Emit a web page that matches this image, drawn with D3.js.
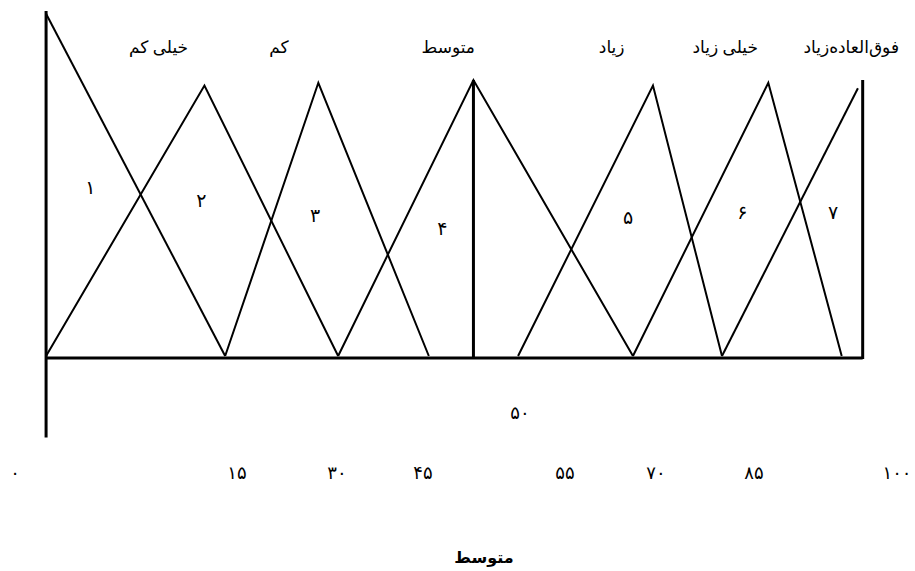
<!DOCTYPE html>
<html>
<head>
<meta charset="utf-8">
<script src="https://cdn.jsdelivr.net/npm/d3@7"></script>
<style>
  body { margin: 0; background: #fff; }
  text { font-family: "Times New Roman", "DejaVu Sans", serif; fill: #000; }
</style>
</head>
<body>
<script>
// axis values as printed under the chart
const xTicks = [0, 15, 30, 45, 50, 55, 70, 85, 100];

// fuzzy set names along the top
const categories = ["خیلی کم", "کم", "متوسط", "زیاد", "خیلی زیاد", "فوق‌العاده‌زیاد"];
const categoryAt = [9.7, 21.3, 46.3, 62.7, 80.6, 95.2];

// membership lines, [x, membership]
const sets = [
  [[2.1, 1.24], [14.2, 0]],
  [[2.1, 0], [12.8, 0.98], [30.2, 0]],
  [[14.2, 0], [27.2, 0.99], [45.3, 0]],
  [[30.2, 0], [47.6, 1.0], [66.2, 0]],
  [[49.9, 0], [69.5, 0.98], [80.1, 0]],
  [[66.2, 0], [86.5, 0.99], [94.2, 0]],
  [[80.1, 0], [95.9, 0.97]]
];

// region numbers inside the triangles
const regionNums = [1, 2, 3, 4, 5, 6, 7];
const regionX = [5.1, 12.6, 26.7, 46.0, 65.4, 83.2, 93.3];
const regionY = [0.61, 0.565, 0.51, 0.464, 0.504, 0.52, 0.52];

const frame = { left: 2.1, mid: 47.6, right: 96.4 };
const title = "متوسط";

const width = 915, height = 571;
const fa = n => String(n).replace(/\d/g, d => "۰۱۲۳۴۵۶۷۸۹"[d]);

const svg = d3.select("body").append("svg")
  .attr("width", width)
  .attr("height", height);

// the printed axis is not evenly spaced, so piecewise
const x = d3.scaleLinear()
  .domain(xTicks)
  .range([15, 237, 337, 423, 520, 565, 656, 754, 897]);

const y = d3.scaleLinear().domain([0, 1]).range([356, 80]);

const line = d3.line().x(d => x(d[0])).y(d => y(d[1]));

// triangles
svg.selectAll(".set")
  .data(sets)
  .enter()
  .append("path")
  .attr("class", "set")
  .attr("d", line)
  .attr("fill", "none")
  .attr("stroke", "#000")
  .attr("stroke-width", 2);

// frame lines
const frameLines = [
  [x(frame.left), y(1.25), x(frame.left), y(-0.295)],
  [x(frame.left), y(0) + 2, x(frame.right), y(0) + 2],
  [x(frame.mid), y(1.0), x(frame.mid), y(0) + 2],
  [x(frame.right), y(1.0), x(frame.right), y(0) + 3]
];
svg.selectAll(".frame")
  .data(frameLines)
  .enter()
  .append("line")
  .attr("class", "frame")
  .attr("x1", d => d[0]).attr("y1", d => d[1])
  .attr("x2", d => d[2]).attr("y2", d => d[3])
  .attr("stroke", "#000")
  .attr("stroke-width", 3);

// category names
svg.selectAll(".cat")
  .data(categories)
  .enter()
  .append("text")
  .attr("class", "cat")
  .attr("x", (d, i) => x(categoryAt[i]))
  .attr("y", 53)
  .attr("text-anchor", "middle")
  .attr("font-size", 17)
  .text(d => d);

// numbers inside
svg.selectAll(".num")
  .data(regionNums)
  .enter()
  .append("text")
  .attr("class", "num")
  .attr("x", (d, i) => x(regionX[i]))
  .attr("y", (d, i) => y(regionY[i]))
  .attr("dy", "0.35em")
  .attr("text-anchor", "middle")
  .attr("font-size", 19)
  .text(d => fa(d));

// tick labels
svg.selectAll(".tick")
  .data(xTicks)
  .enter()
  .append("text")
  .attr("class", "tick")
  .attr("x", d => x(d))
  .attr("y", d => d === 50 ? 413 : 473)
  .attr("dy", "0.35em")
  .attr("text-anchor", "middle")
  .attr("font-size", 18)
  .text(d => fa(d));

// bottom title
svg.append("text")
  .attr("x", 484)
  .attr("y", 557)
  .attr("dy", "0.35em")
  .attr("text-anchor", "middle")
  .attr("font-size", 16)
  .attr("font-weight", "bold")
  .text(title);
</script>
</body>
</html>
